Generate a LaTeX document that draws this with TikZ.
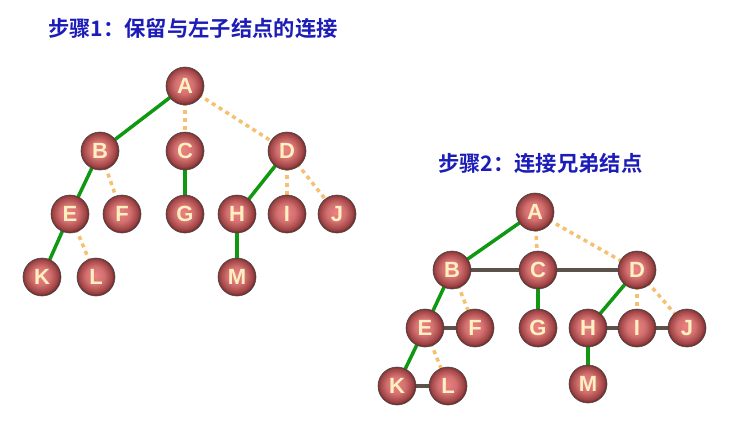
\documentclass[tikz,border=0pt]{standalone}
\usepackage{fontspec}
\usetikzlibrary{backgrounds}
\setmainfont{Liberation Sans}
\newfontfamily\cjk{Noto Sans CJK SC Bold}
\newfontfamily\lbl{Liberation Sans Bold}
\definecolor{ballin}{HTML}{EC8282}
\definecolor{ballmid}{HTML}{C05858}
\definecolor{ballout}{HTML}{72282A}
\definecolor{edgegreen}{HTML}{109810}
\definecolor{edgeorange}{HTML}{F5C070}
\definecolor{edgegray}{HTML}{5C524A}
\definecolor{titleblue}{HTML}{1C1CB8}
\definecolor{lblcol}{HTML}{FFF0C0}
\pgfdeclareradialshading{myball}{\pgfpoint{-2bp}{2bp}}{color(0bp)=(ballin); color(12bp)=(ballin!80!ballout); color(22bp)=(ballmid!55!ballout); color(25bp)=(ballout); color(50bp)=(ballout)}
\tikzset{
  ball/.style={circle, minimum size=38pt, inner sep=0pt, shading=myball, draw=black!70, line width=0.6pt,
    font=\lbl\fontsize{22}{22}\selectfont, text=lblcol},
  keep/.style={draw=edgegreen, line width=3.5pt},
  drop/.style={draw=edgeorange, line width=3.5pt, dash pattern=on 4pt off 4pt},
  sib/.style={draw=edgegray, line width=4.5pt},
  title/.style={font=\cjk\fontsize{21.3}{23}\selectfont, text=titleblue, anchor=west, inner sep=0pt}
}
\begin{document}
\begin{tikzpicture}[x=1pt,y=-1pt]
\useasboundingbox (0,0) rectangle (746,426);
\node[title] (t1) at (48,28) {步骤1：保留与左子结点的连接};
\node[title] (t2) at (438,163) {步骤2：连接兄弟结点};
% left tree nodes
\node[ball] (A) at (185,86) {A};
\node[ball] (B) at (100,151) {B};
\node[ball] (C) at (185,151) {C};
\node[ball] (D) at (287,151) {D};
\node[ball] (E) at (70,214) {E};
\node[ball] (F) at (122,214) {F};
\node[ball] (G) at (185,214) {G};
\node[ball] (H) at (237,214) {H};
\node[ball] (I) at (287,214) {I};
\node[ball] (J) at (337,214) {J};
\node[ball] (K) at (42,277) {K};
\node[ball] (L) at (96,277) {L};
\node[ball] (M) at (237,277) {M};
% right tree nodes
\node[ball] (A2) at (535,212) {A};
\node[ball] (B2) at (452,270) {B};
\node[ball] (C2) at (538,270) {C};
\node[ball] (D2) at (637,270) {D};
\node[ball] (E2) at (425,328) {E};
\node[ball] (F2) at (475,328) {F};
\node[ball] (G2) at (538,328) {G};
\node[ball] (H2) at (588,328) {H};
\node[ball] (I2) at (637,328) {I};
\node[ball] (J2) at (687,328) {J};
\node[ball] (K2) at (397,386) {K};
\node[ball] (L2) at (448,386) {L};
\node[ball] (M2) at (588,384) {M};
\begin{scope}[on background layer]
\fill[white] (0,0) rectangle (746,426);
% left tree edges
\draw[keep] (A.center) -- (B.center);
\draw[drop] (A.center) -- (C.center);
\draw[drop] (A.center) -- (D.center);
\draw[keep] (B.center) -- (E.center);
\draw[drop] (B.center) -- (F.center);
\draw[keep] (C.center) -- (G.center);
\draw[keep] (D.center) -- (H.center);
\draw[drop] (D.center) -- (I.center);
\draw[drop] (D.center) -- (J.center);
\draw[keep] (E.center) -- (K.center);
\draw[drop] (E.center) -- (L.center);
\draw[keep] (H.center) -- (M.center);
% right tree edges
\draw[keep] (A2.center) -- (B2.center);
\draw[drop] (A2.center) -- (C2.center);
\draw[drop] (A2.center) -- (D2.center);
\draw[keep] (B2.center) -- (E2.center);
\draw[drop] (B2.center) -- (F2.center);
\draw[keep] (C2.center) -- (G2.center);
\draw[keep] (D2.center) -- (H2.center);
\draw[drop] (D2.center) -- (I2.center);
\draw[drop] (D2.center) -- (J2.center);
\draw[keep] (E2.center) -- (K2.center);
\draw[drop] (E2.center) -- (L2.center);
\draw[keep] (H2.center) -- (M2.center);
\draw[sib] (B2.center) -- (C2.center);
\draw[sib] (C2.center) -- (D2.center);
\draw[sib] (E2.center) -- (F2.center);
\draw[sib] (H2.center) -- (I2.center);
\draw[sib] (I2.center) -- (J2.center);
\draw[sib] (K2.center) -- (L2.center);
\end{scope}
\end{tikzpicture}
\end{document}
